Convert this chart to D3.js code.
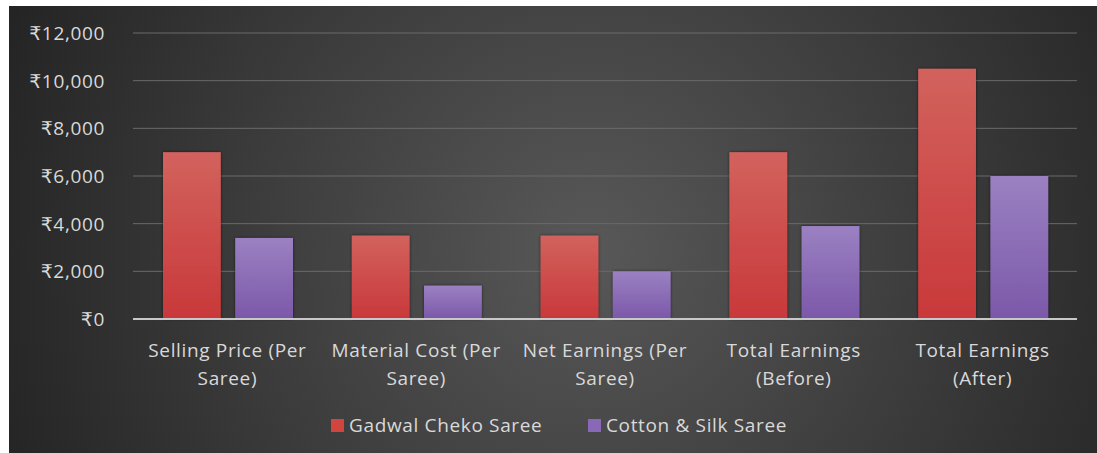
<!DOCTYPE html>
<html>
<head>
<meta charset="utf-8">
<script src="https://cdn.jsdelivr.net/npm/d3@7"></script>
<style>
  body { margin: 0; background: #ffffff; }
  text { font-family: "Open Sans", "DejaVu Sans", sans-serif; letter-spacing: 0.65px; }
</style>
</head>
<body>
<div id="chart"></div>
<script>
// chart data
var categories = ["Selling Price (Per Saree)", "Material Cost (Per Saree)", "Net Earnings (Per Saree)", "Total Earnings (Before)", "Total Earnings (After)"];
var labelLines = [["Selling Price (Per", "Saree)"], ["Material Cost (Per", "Saree)"], ["Net Earnings (Per", "Saree)"], ["Total Earnings", "(Before)"], ["Total Earnings", "(After)"]];
var seriesNames = ["Gadwal Cheko Saree", "Cotton & Silk Saree"];
var gadwalValues = [7000, 3500, 3500, 7000, 10500];
var cottonValues = [3400, 1400, 2000, 3900, 6000];
var yTicks = [0, 2000, 4000, 6000, 8000, 10000, 12000];

var width = 1097, height = 453;
var margin = {top: 33, right: 20, bottom: 134, left: 133};

var svg = d3.select("#chart").append("svg")
    .attr("width", width)
    .attr("height", height);

var defs = svg.append("defs");

// dark background with lighter centre
var bg = defs.append("radialGradient")
    .attr("id", "bgGrad")
    .attr("gradientUnits", "userSpaceOnUse")
    .attr("cx", 590).attr("cy", 250).attr("r", 640);
bg.append("stop").attr("offset", "0%").attr("stop-color", "#585858");
bg.append("stop").attr("offset", "100%").attr("stop-color", "#232323");

var redGrad = defs.append("linearGradient").attr("id", "redGrad")
    .attr("x1", 0).attr("y1", 0).attr("x2", 0).attr("y2", 1);
redGrad.append("stop").attr("offset", "0%").attr("stop-color", "#d2625d");
redGrad.append("stop").attr("offset", "100%").attr("stop-color", "#c9383a");

var purpleGrad = defs.append("linearGradient").attr("id", "purpleGrad")
    .attr("x1", 0).attr("y1", 0).attr("x2", 0).attr("y2", 1);
purpleGrad.append("stop").attr("offset", "0%").attr("stop-color", "#9b81c2");
purpleGrad.append("stop").attr("offset", "100%").attr("stop-color", "#7b58a9");

var shadow = defs.append("filter").attr("id", "barShadow")
    .attr("x", "-20%").attr("y", "-20%").attr("width", "140%").attr("height", "140%");
shadow.append("feDropShadow")
    .attr("dx", 0).attr("dy", 0).attr("stdDeviation", 1.5)
    .attr("flood-color", "#000").attr("flood-opacity", 0.6);

var fills = ["url(#redGrad)", "url(#purpleGrad)"];
var legendColors = ["#d2453f", "#8a68b8"];

svg.append("rect")
    .attr("x", 9).attr("y", 6)
    .attr("width", width - 9).attr("height", height - 6)
    .attr("fill", "url(#bgGrad)");

var x0 = d3.scaleBand()
    .domain(categories)
    .range([margin.left, 1077])
    .padding(0);

var x1 = d3.scaleBand()
    .domain(seriesNames)
    .range([30, 160])
    .paddingInner(0.2);

var y = d3.scaleLinear()
    .domain([0, 12000])
    .range([319, margin.top]);

// gridlines
svg.append("g")
    .selectAll("line")
    .data(yTicks.slice(1))
    .join("line")
    .attr("x1", margin.left).attr("x2", 1077)
    .attr("y1", function(d) { return y(d); })
    .attr("y2", function(d) { return y(d); })
    .attr("stroke", "#6a6a6a")
    .attr("stroke-width", 1);

// y axis labels
var fmt = d3.format(",");
var yAxis = svg.append("g")
    .attr("transform", "translate(105,0)")
    .call(d3.axisLeft(y).tickValues(yTicks).tickSize(0).tickPadding(0)
        .tickFormat(function(d) { return "\u20B9" + fmt(d); }));
yAxis.select(".domain").remove();
yAxis.selectAll("text")
    .attr("fill", "#d9d9d9")
    .style("font-family", "\"Open Sans\", \"DejaVu Sans\", sans-serif")
    .style("font-size", "19px")
    .attr("dy", "0.35em");

// bars
var rows = categories.map(function(c, i) {
  return {cat: c, values: [gadwalValues[i], cottonValues[i]]};
});

var groups = svg.append("g")
    .selectAll("g")
    .data(rows)
    .join("g")
    .attr("transform", function(d) { return "translate(" + x0(d.cat) + ",0)"; });

groups.selectAll("rect")
    .data(function(d) { return d.values.map(function(v, k) { return {name: seriesNames[k], value: v, k: k}; }); })
    .join("rect")
    .attr("x", function(d) { return x1(d.name); })
    .attr("y", function(d) { return y(d.value); })
    .attr("width", x1.bandwidth())
    .attr("height", function(d) { return y(0) - y(d.value); })
    .attr("fill", function(d) { return fills[d.k]; })
    .attr("filter", "url(#barShadow)");

// zero axis line
svg.append("line")
    .attr("x1", margin.left).attr("x2", 1077)
    .attr("y1", y(0)).attr("y2", y(0))
    .attr("stroke", "#c8c8c8")
    .attr("stroke-width", 2);

// category labels
var catLabels = svg.append("g")
    .selectAll("text")
    .data(categories)
    .join("text")
    .attr("x", function(d) { return x0(d) + x0.bandwidth() / 2; })
    .attr("y", 357)
    .attr("text-anchor", "middle")
    .attr("fill", "#d9d9d9")
    .style("font-size", "19px");

catLabels.each(function(d, i) {
  var t = d3.select(this);
  labelLines[i].forEach(function(line, j) {
    t.append("tspan")
      .attr("x", x0(d) + x0.bandwidth() / 2)
      .attr("dy", j === 0 ? 0 : 28)
      .text(line);
  });
});

// legend
var legendX = [331, 588];
var legend = svg.append("g")
    .selectAll("g")
    .data(seriesNames)
    .join("g")
    .attr("transform", function(d, i) { return "translate(" + legendX[i] + ",419)"; });

legend.append("rect")
    .attr("width", 13).attr("height", 13)
    .attr("fill", function(d, i) { return legendColors[i]; });

legend.append("text")
    .attr("x", 18).attr("y", 6.5)
    .attr("dy", "0.35em")
    .attr("fill", "#d9d9d9")
    .style("font-size", "19px")
    .text(function(d) { return d; });
</script>
</body>
</html>
